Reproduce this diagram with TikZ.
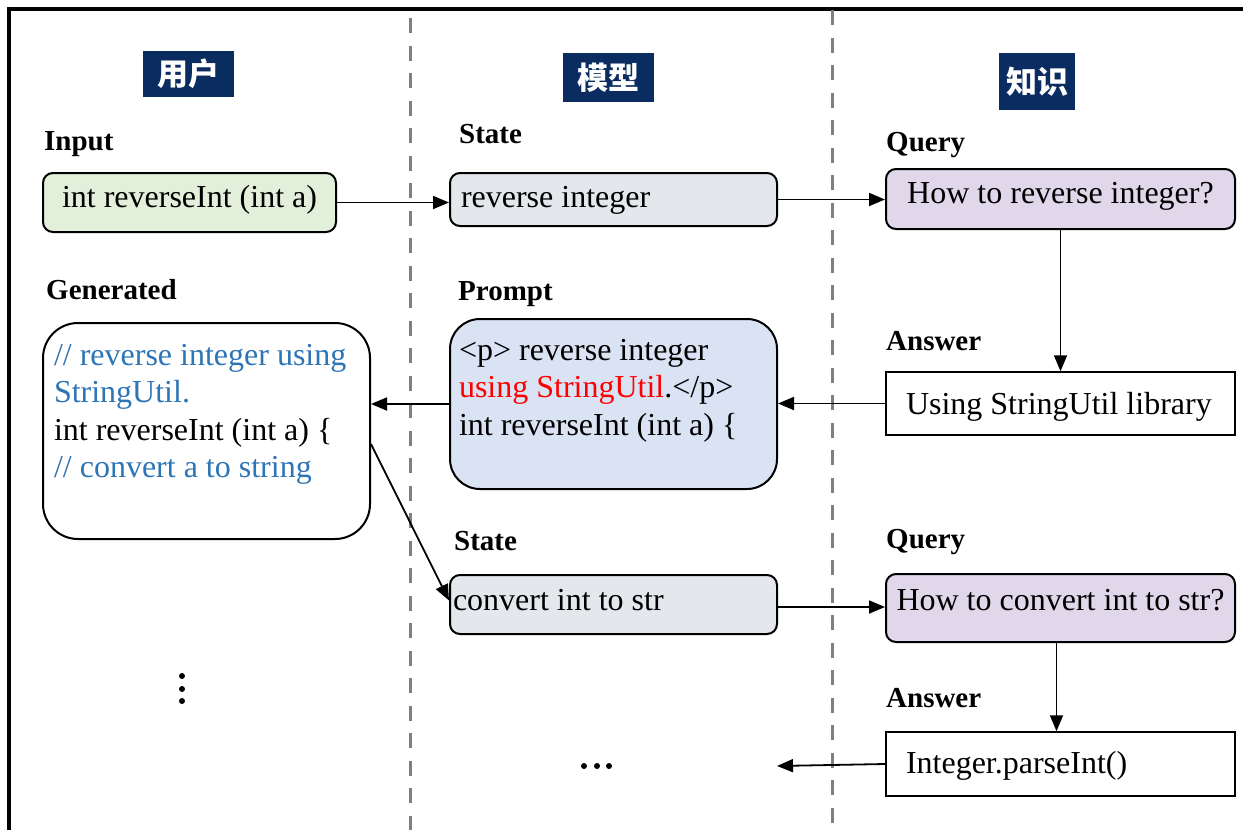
\documentclass[tikz,border=0pt]{standalone}
\usepackage{fontspec}
\setmainfont{Liberation Serif}
\newfontfamily\cjk{Noto Sans CJK SC}
\usetikzlibrary{arrows.meta}
\definecolor{navy}{RGB}{10,44,96}
\definecolor{greenfill}{RGB}{226,239,218}
\definecolor{grayfill}{RGB}{228,231,236}
\definecolor{lavfill}{RGB}{225,215,235}
\definecolor{bluefill}{RGB}{218,227,243}
\definecolor{cmtblue}{RGB}{46,117,182}
\definecolor{divgray}{RGB}{128,128,128}
\newcommand{\lbox}[2]{\makebox[#1][l]{#2}}
\begin{document}
\begin{tikzpicture}[x=1pt,y=-1pt,
  every node/.style={font=\fontsize{32}{37.5}\selectfont},
  header/.style={fill=navy, text=white, inner sep=0pt,
    font=\cjk\bfseries\fontsize{31}{31}\selectfont},
  lbl/.style={anchor=base west, inner sep=0pt,
    font=\bfseries\fontsize{29}{29}\selectfont},
  box/.style={draw=black, line width=2pt, inner ysep=0pt},
  oneline/.style={text height=22pt},
  link/.style={line width=1.8pt, -{Triangle[length=16pt,width=13pt]}},
  divider/.style={draw=divgray, line width=3pt, dash pattern=on 15pt off 12.5pt},
  dot/.style={fill=black},
]
\useasboundingbox (0,0) rectangle (1243,830);

% outer frame (only top and left edges fall inside the page)
\draw[line width=3.5pt, line join=miter] (9,850) -- (9,9) -- (1270,9);

% column dividers
\draw[divider] (410,18) -- (410,830);
\draw[divider] (832,10) -- (832,830);

% column headers
\node[header, minimum width=91pt, minimum height=46pt] (hUser)  at (188.5,74)  {用户};
\node[header, minimum width=91pt, minimum height=49pt] (hModel) at (608.5,77.5) {模型};
\node[header, minimum width=76pt, minimum height=57pt] (hKnow)  at (1037,81.5)  {知识};

% section labels
\node[lbl] (lInput)  at (44,150)  {Input};
\node[lbl] (lState1) at (459,143) {State};
\node[lbl] (lQuery1) at (886,151) {Query};
\node[lbl] (lGen)    at (46,299)  {Generated};
\node[lbl] (lPrompt) at (458,300) {Prompt};
\node[lbl] (lAns1)   at (886,350) {Answer};
\node[lbl] (lState2) at (454,550) {State};
\node[lbl] (lQuery2) at (886,548) {Query};
\node[lbl] (lAns2)   at (886,707) {Answer};

% user column
\node[box, oneline, fill=greenfill, rounded corners=10pt, minimum width=293pt, minimum height=59pt,
  inner xsep=19pt, text depth=13pt] (in) at (189.5,202.5)
  {\lbox{255pt}{int reverseInt (int a)}};
\node[box, fill=white, rounded corners=35pt, inner xsep=11pt] (gen) at (206.5,431)
  {\parbox[c][216pt][t]{305pt}{\raggedright
    \rule{0pt}{42pt}\textcolor{cmtblue}{// reverse integer using}\\
    \textcolor{cmtblue}{StringUtil.}\\
    int reverseInt (int a) \{\\
    \textcolor{cmtblue}{// convert a to string}}};

% model column
\node[box, oneline, fill=grayfill, rounded corners=10pt, minimum width=327pt, minimum height=53pt,
  inner xsep=11pt, text depth=7pt] (st1) at (613.5,199.5)
  {\lbox{305pt}{reverse integer}};
\node[box, fill=bluefill, rounded corners=30pt, inner xsep=9pt] (pr) at (613.5,404)
  {\parbox[c][170pt][t]{309pt}{\raggedright
    \rule{0pt}{41pt}<p> reverse integer\\
    \textcolor{red}{using StringUtil}.</p>\\
    int reverseInt (int a) \{}};
\node[box, oneline, fill=grayfill, rounded corners=10pt, minimum width=327pt, minimum height=59pt,
  inner xsep=3pt, text depth=11pt] (st2) at (613.5,604.5)
  {\lbox{321pt}{convert int to str}};

% knowledge column
\node[box, oneline, fill=lavfill, rounded corners=10pt, minimum width=349pt, minimum height=60pt,
  text depth=14pt] (q1) at (1060.5,199) {How to reverse integer?};
\node[box, oneline, line width=1.5pt, fill=white, minimum width=349pt, minimum height=63pt,
  inner xsep=20pt, text depth=1pt] (a1) at (1060.5,403.5)
  {\lbox{309pt}{Using StringUtil library}};
\node[box, oneline, fill=lavfill, rounded corners=10pt, minimum width=349pt, minimum height=68pt,
  text depth=18pt] (q2) at (1060.5,608) {How to convert int to str?};
\node[box, oneline, line width=1.5pt, fill=white, minimum width=349pt, minimum height=64pt,
  inner xsep=20pt, text depth=4pt] (a2) at (1060.5,764)
  {\lbox{309pt}{Integer.parseInt()}};

% continuation marks
\coordinate (more) at (597,766);
\coordinate (moreR) at (777,766);
\fill[dot] (584,766) circle[radius=3pt] (597,766) circle[radius=3pt] (609,766) circle[radius=3pt];
\coordinate (vmore) at (182,689);
\fill[dot] (182,676) circle[radius=3pt] (182,689) circle[radius=3pt] (182,701) circle[radius=3pt];

% connectors
\draw[link] (in.east) -- (in.east -| st1.west);
\draw[link] (st1.east) -- (st1.east -| q1.west);
\draw[link] (q1.south) -- (a1.north);
\draw[link] (a1.west) -- (a1.west -| pr.east);
\draw[link] (pr.west) -- (pr.west -| gen.east);
\draw[link] ([yshift=-13pt]gen.east) -- ([yshift=4pt]st2.west);
\draw[link] ([yshift=-2.5pt]st2.east) -- ([yshift=-2.5pt]st2.east -| q2.west);
\draw[link] ([xshift=-4pt]q2.south) -- ([xshift=-4pt]a2.north);
\draw[link] (a2.west) -- (moreR);
\end{tikzpicture}
\end{document}
